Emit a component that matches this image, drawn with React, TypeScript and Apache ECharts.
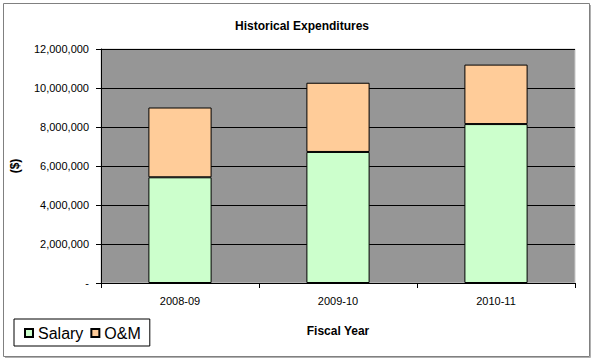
import React, { useEffect, useRef } from "react";
import * as echarts from "echarts";

const categories = ["2008-09", "2009-10", "2010-11"];
const salary = [5420000, 6720000, 8150000];
const oAndM = [3580000, 3550000, 3050000];
const yTicks = { min: 0, max: 12000000, interval: 2000000 };

const FONT = "'Liberation Sans', Arial, sans-serif";

export default function App() {
  const ref = useRef<HTMLDivElement>(null);
  useEffect(() => {
    const chart = echarts.init(ref.current!, null, { renderer: "svg" });
    chart.setOption({
      animation: false,
      backgroundColor: "#ffffff",
      textStyle: { fontFamily: FONT },
      title: {
        text: "Historical Expenditures",
        left: 297,
        textAlign: "center",
        top: 15,
        textStyle: { fontFamily: FONT, fontSize: 12, fontWeight: "bold", color: "#000" },
      },
      graphic: [
        {
          type: "rect",
          shape: { x: 3.5, y: 3.5, width: 586, height: 353 },
          style: { fill: "none", stroke: "#808080", lineWidth: 1 },
          z: 100,
        },
        {
          type: "line",
          shape: { x1: 590.5, y1: 5, x2: 590.5, y2: 357.5 },
          style: { stroke: "#b0b0b0", lineWidth: 1 },
          z: 100,
        },
        {
          type: "line",
          shape: { x1: 5, y1: 357.5, x2: 590.5, y2: 357.5 },
          style: { stroke: "#b0b0b0", lineWidth: 1 },
          z: 100,
        },
      ],
      legend: {
        left: 14,
        top: 319,
        orient: "horizontal",
        itemWidth: 8,
        itemHeight: 8,
        itemGap: 7,
        icon: "rect",
        padding: [6, 9, 5, 10],
        borderColor: "#000",
        borderWidth: 1,
        backgroundColor: "#fff",
        textStyle: { fontFamily: FONT, fontSize: 16, color: "#000", padding: [0, 0, 0, 0] },
        data: ["Salary", "O&M"],
      },
      grid: {
        left: 101,
        top: 49,
        right: 20,
        bottom: 78,
        show: true,
        backgroundColor: "#969696",
        borderColor: "#c8c8c8",
        borderWidth: 1,
      },
      xAxis: {
        type: "category",
        data: categories,
        name: "Fiscal Year",
        nameLocation: "middle",
        nameGap: 42,
        nameTextStyle: { fontFamily: FONT, fontSize: 12, fontWeight: "bold", color: "#000" },
        axisLine: { show: true, lineStyle: { color: "#000", width: 1 } },
        axisTick: { show: true, inside: false, length: 5, alignWithLabel: false, interval: 0, lineStyle: { color: "#000" } },
        axisLabel: { margin: 12, fontFamily: FONT, fontSize: 11, color: "#000", interval: 0 },
        splitLine: { show: false },
      },
      yAxis: {
        type: "value",
        min: yTicks.min,
        max: yTicks.max,
        interval: yTicks.interval,
        name: "($)",
        nameLocation: "middle",
        nameRotate: 90,
        nameGap: 80,
        nameTextStyle: { fontFamily: FONT, fontSize: 12, fontWeight: "bold", color: "#000" },
        axisLine: { show: true, lineStyle: { color: "#000", width: 1 } },
        axisTick: { show: true, inside: false, length: 5, lineStyle: { color: "#000" } },
        axisLabel: {
          margin: 12,
          fontFamily: FONT,
          fontSize: 11,
          color: "#000",
          formatter: (v: number) => (v === 0 ? "-" : v.toLocaleString("en-US")),
        },
        splitLine: { show: true, lineStyle: { color: "#000", width: 1 } },
      },
      series: [
        {
          name: "Salary",
          type: "bar",
          stack: "total",
          data: salary,
          barCategoryGap: "60%",
          itemStyle: { color: "#CCFFCC", borderColor: "#000", borderWidth: 1 },
        },
        {
          name: "O&M",
          type: "bar",
          stack: "total",
          data: oAndM,
          barCategoryGap: "60%",
          itemStyle: { color: "#FFCC99", borderColor: "#000", borderWidth: 1 },
        },
      ],
    });
    return () => chart.dispose();
  }, []);
  return <div ref={ref} style={{ width: 595, height: 361, position: "absolute", left: 0, top: 0 }} />;
}
